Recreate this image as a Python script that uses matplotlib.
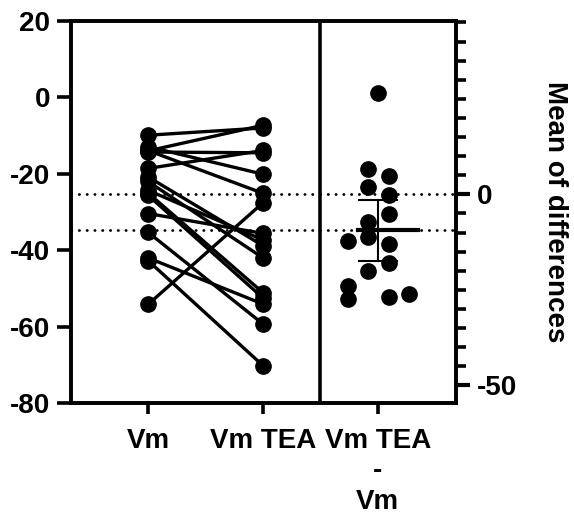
import numpy as np
import matplotlib
matplotlib.use('Agg')
import matplotlib.pyplot as plt
from matplotlib.ticker import MultipleLocator, FixedLocator

plt.rcParams['font.family'] = ['Liberation Sans', 'DejaVu Sans']
plt.rcParams['font.weight'] = 'bold'

# paired values
vm     = [-54.2, -14.0, -18.6, -9.9, -14.3, -30.4, -12.9, -13.9,
          -42.0, -24.3, -20.8, -22.0, -35.3, -25.0, -25.6, -42.7]
vm_tea = [-27.6, -7.3, -13.9, -8.0, -14.5, -35.6, -20.1, -25.1,
          -54.1, -37.3, -38.8, -42.0, -59.3, -51.1, -52.5, -70.2]
group_labels = ['Vm', 'Vm TEA', 'Vm TEA\n-\nVm']
t95 = 2.131  # t value, df = 15

# horizontal scatter of the difference points (layout only)
jit = [0, -0.087, 0.096, -0.087, 0.096, 0.096, -0.087, -0.087,
       -0.26, 0.096, 0.096, -0.087, -0.26, 0.27, 0.096, -0.26]

vm = np.array(vm)
vm_tea = np.array(vm_tea)
diff = vm_tea - vm
m_vm = vm.mean()
m_tea = vm_tea.mean()
m_d = diff.mean()
ci = t95 * diff.std(ddof=1) / np.sqrt(len(diff))

FS = 20

fig = plt.figure(figsize=(5.74, 5.19), dpi=100)
ax = fig.add_axes([71/574, 1-403/519, (456-71)/574, (403-21)/519])
ax.set_xlim(-0.67, 2.68)
ax.set_ylim(-80, 20)

for a, b in zip(vm, vm_tea):
    ax.plot([0, 1], [a, b], '-', color='black', lw=2.4, zorder=3)
ax.plot(np.zeros(len(vm)), vm, 'o', color='black', ms=11, zorder=4)
ax.plot(np.ones(len(vm_tea)), vm_tea, 'o', color='black', ms=11, zorder=4)

# dotted mean lines across both panels
for yv in (m_vm, m_tea):
    ax.plot([-0.67, 2.68], [yv, yv], color='black', lw=2.0,
            linestyle=(0, (0.1, 2.7)), dash_capstyle='round', zorder=2)

ax.axvline(1.5, color='black', lw=2.6, zorder=2)

# right panel: differences, on the same scale shifted by mean of Vm
xd = 2 + np.array(jit)
ax.plot(xd, diff + m_vm, 'o', color='black', ms=11, zorder=4)
ax.plot([1.83, 2.35], [m_tea, m_tea], color='black', lw=3.0, zorder=5)
ax.plot([2, 2], [m_d - ci + m_vm, m_d + ci + m_vm], color='black', lw=1.5, zorder=5)
for yv in (m_d - ci, m_d + ci):
    ax.plot([1.84, 2.17], [yv + m_vm, yv + m_vm], color='black', lw=1.5, zorder=5)

for s in ax.spines.values():
    s.set_linewidth(2.6)

ax.set_yticks([-80, -60, -40, -20, 0, 20])
ax.set_yticklabels(['-80', '-60', '-40', '-20', '0', '20'])
ax.tick_params(axis='y', length=10, width=2.6, pad=5, labelsize=FS)
ax.set_xticks([0, 1, 2])
ax.set_xticklabels(group_labels, fontsize=FS, fontweight='bold')
for t in ax.get_xticklabels():
    t.set_linespacing(1.22)
ax.tick_params(axis='x', length=8, width=2.6, pad=10)

ax2 = ax.twinx()
ax2.set_ylim(-80 - m_vm, 20 - m_vm)
ax2.yaxis.set_major_locator(FixedLocator([-50, 0]))
ax2.yaxis.set_minor_locator(MultipleLocator(5))
ax2.set_yticklabels(['-50', '0'])
ax2.tick_params(axis='y', which='major', length=10, width=3.0, pad=5, labelsize=FS)
ax2.tick_params(axis='y', which='minor', length=7, width=2.6)
for s in ax2.spines.values():
    s.set_linewidth(2.6)
ax2.set_ylabel('Mean of differences', rotation=270, fontsize=FS,
               fontweight='bold')
ax2.yaxis.set_label_coords(1.29, 0.5)

fig.savefig('out.png', dpi=100)
